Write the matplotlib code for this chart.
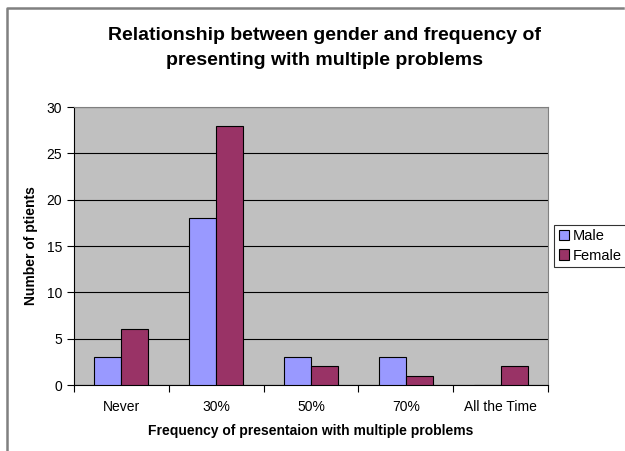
import matplotlib
matplotlib.use("Agg")
import matplotlib.pyplot as plt
import numpy as np
from matplotlib.lines import Line2D

categories = ["Never", "30%", "50%", "70%", "All the Time"]
male = [3, 18, 3, 3, 0]
female = [6, 28, 2, 1, 2]

plt.rcParams['font.family'] = ['Liberation Sans', 'DejaVu Sans']

fig = plt.figure(figsize=(6.25, 4.51), dpi=100)
# outer chart frame (only top and left edges are visible)
fx0, fy1 = 7 / 625, 1 - 8 / 451
fig.lines.append(Line2D([fx0, fx0, 623 / 625], [0, fy1, fy1], transform=fig.transFigure,
                        color="#808080", linewidth=1.8))
ax = fig.add_axes([0.1184, 0.1463, 0.7584, 0.6164])

x = np.arange(len(categories))
w = 0.285
ax.bar(x - w / 2, male, w, color="#9999FF", edgecolor="black", linewidth=0.8, label="Male", zorder=3)
ax.bar(x + w / 2, female, w, color="#993366", edgecolor="black", linewidth=0.8, label="Female", zorder=3)

ax.set_facecolor("#C0C0C0")
ax.set_xlim(-0.5, 4.5)
ax.set_ylim(0, 30)
ax.set_yticks(range(0, 31, 5))
ax.yaxis.grid(True, color="black", linewidth=0.8, zorder=0)
ax.set_axisbelow(True)
ax.set_xticks(np.arange(-0.5, 5, 1), minor=False)
ax.set_xticklabels([])
ax.set_xticks(x, minor=True)
ax.set_xticklabels(categories, minor=True, fontsize=10)
ax.tick_params(axis="x", which="minor", length=0, pad=11)
ax.tick_params(axis="x", which="major", length=5, direction="out")
ax.tick_params(axis="y", labelsize=10, length=5)
for s in ["top", "right"]:
    ax.spines[s].set_color("#808080")
ax.spines["left"].set_color("black")
ax.spines["bottom"].set_color("black")

ax.set_ylabel("Number of ptients", fontsize=10, fontweight="bold", labelpad=6)
ax.set_xlabel("Frequency of presentaion with multiple problems", fontsize=10, fontweight="bold", labelpad=7)
fig.text(0.5184, 0.893, "Relationship between gender and frequency of\npresenting with multiple problems",
         ha="center", va="center", fontsize=14, fontweight="bold", linespacing=1.6)

leg = ax.legend(loc="center left", bbox_to_anchor=(1.013, 0.5), frameon=True, fancybox=False,
                fontsize=10.5, handlelength=0.7, handleheight=0.7, handletextpad=0.3,
                borderpad=0.3, labelspacing=0.35, borderaxespad=0)
leg.get_frame().set_edgecolor("black")
leg.get_frame().set_linewidth(0.8)

fig.savefig("out.png", dpi=100)
